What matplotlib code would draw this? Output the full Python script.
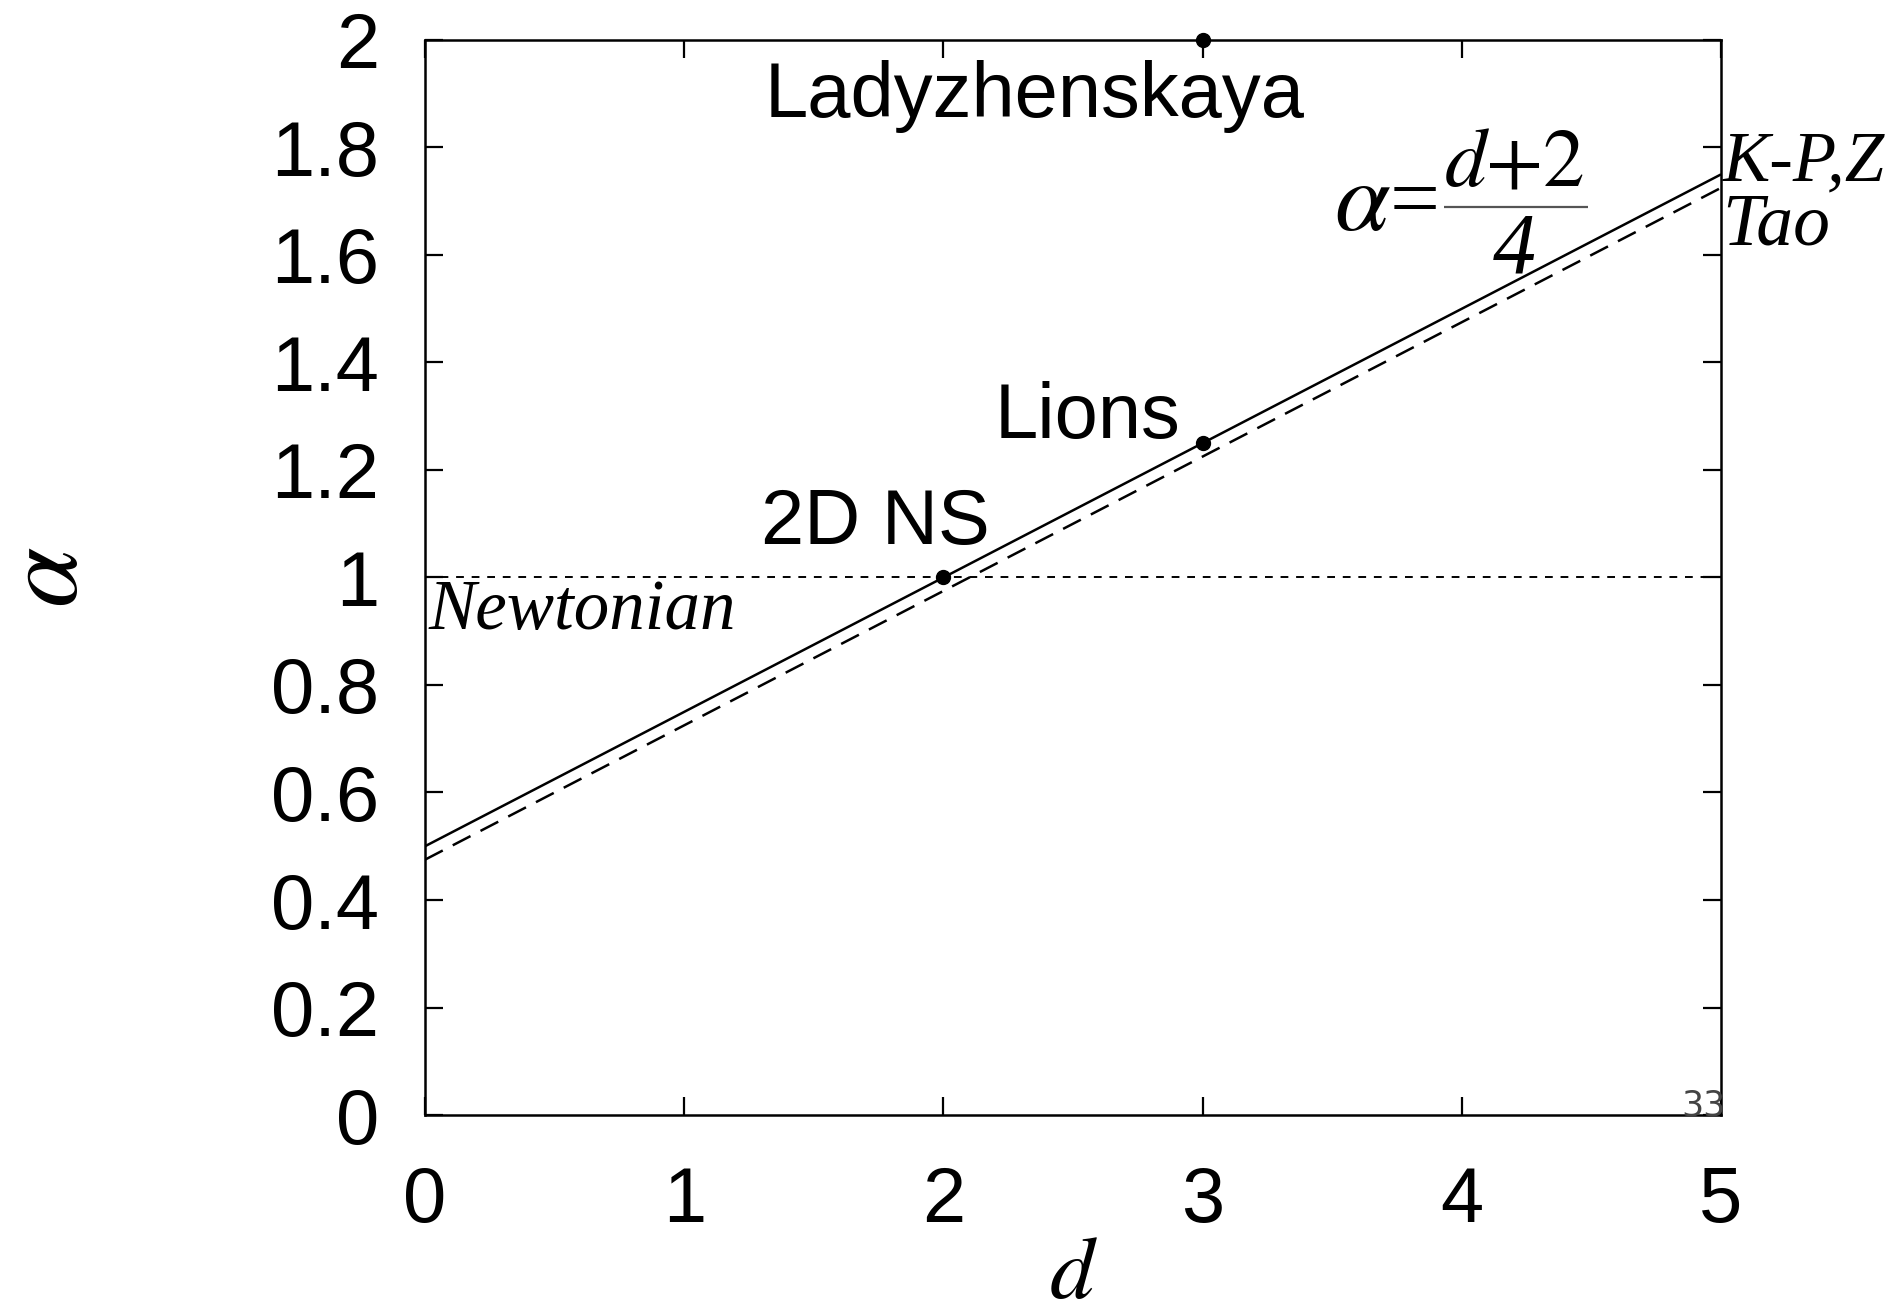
import matplotlib
matplotlib.use("Agg")
import matplotlib.pyplot as plt
import numpy as np

# Data
d_line = [0, 5]
alpha_kpz = [0.5, 1.75]
alpha_tao = [0.475, 1.725]
newtonian = [1.0, 1.0]
pts_d = [2, 3, 3]
pts_alpha = [1.0, 1.25, 2.0]
pt_labels = ["2D NS", "Lions", "Ladyzhenskaya"]
xticks = [0, 1, 2, 3, 4, 5]
yticks = [0, 0.2, 0.4, 0.6, 0.8, 1, 1.2, 1.4, 1.6, 1.8, 2]
ytick_labels = ["0", "0.2", "0.4", "0.6", "0.8", "1", "1.2", "1.4", "1.6", "1.8", "2"]

plt.rcParams['mathtext.fontset'] = 'stix'
fig = plt.figure(figsize=(18.99, 13.11), dpi=100)
ax = fig.add_axes([0.2238, 0.1495, 0.9063 - 0.2238, 0.9695 - 0.1495])

ax.plot(d_line, alpha_kpz, color='black', lw=1.8, solid_capstyle='butt')
ax.plot(d_line, alpha_tao, color='black', lw=1.8, dashes=(8, 4.5))
ax.plot(d_line, newtonian, color='black', lw=1.4, dashes=(4, 4))
ax.plot(pts_d, pts_alpha, 'o', color='black', ms=10, clip_on=False)

ax.set_xlim(0, 5)
ax.set_ylim(0, 2)
ax.set_xticks(xticks)
ax.set_yticks(yticks)
ax.set_yticklabels(ytick_labels)
sans = 'Liberation Sans'
serif = 'Liberation Serif'
for lab in ax.get_xticklabels() + ax.get_yticklabels():
    lab.set_fontfamily(sans)
    lab.set_fontsize(56)
ax.tick_params(direction='in', length=13, width=1.6, top=True, right=True, pad=33)
ax.tick_params(axis='x', pad=36)
for s in ax.spines.values():
    s.set_linewidth(1.8)

ax.set_xlabel(r'$d$', fontsize=64, va='baseline')
ax.xaxis.set_label_coords(0.5, -0.170)
ax.set_ylabel(r'$\alpha$', fontsize=78, rotation=90, va='center')
ax.yaxis.set_label_coords(-0.292, 0.5)

ax.text(2.35, 1.894, pt_labels[2], fontfamily=sans, fontsize=56, ha='center', va='center')
ax.text(2.556, 1.297, pt_labels[1], fontfamily=sans, fontsize=56, ha='center', va='center')
ax.text(1.738, 1.101, pt_labels[0], fontfamily=sans, fontsize=56, ha='center', va='center')
ax.text(0.015, 0.937, 'Newtonian', fontfamily=serif, style='italic', fontsize=51,
        ha='left', va='center')
ax.text(5.005, 1.738, 'K-P,Z', fontfamily=serif, style='italic', fontsize=51,
        ha='left', va='baseline', clip_on=False)
ax.text(5.005, 1.620, 'Tao', fontfamily=serif, style='italic', fontsize=53,
        ha='left', va='baseline', clip_on=False)

# formula alpha = (d+2)/4
ax.text(3.505, 1.647, r'$\alpha$', fontsize=72, ha='left', va='baseline')
ax.text(3.819, 1.652, '=', fontfamily=serif, fontsize=64, ha='center', va='baseline')
ax.plot([3.931, 4.487], [1.689, 1.689], color='#555555', lw=1.6, solid_capstyle='butt')
ax.text(4.203, 1.730, r'$d{+}2$', fontsize=60, ha='center', va='baseline')
ax.text(4.201, 1.567, '4', fontfamily=serif, style='italic', fontsize=62, ha='center', va='baseline')

fig.text(1703 / 1899, 1 - 1105 / 1311, '33', color='#444444', fontfamily='DejaVu Sans', fontsize=25,
         ha='center', va='center')

fig.savefig('out.png', dpi=100)
